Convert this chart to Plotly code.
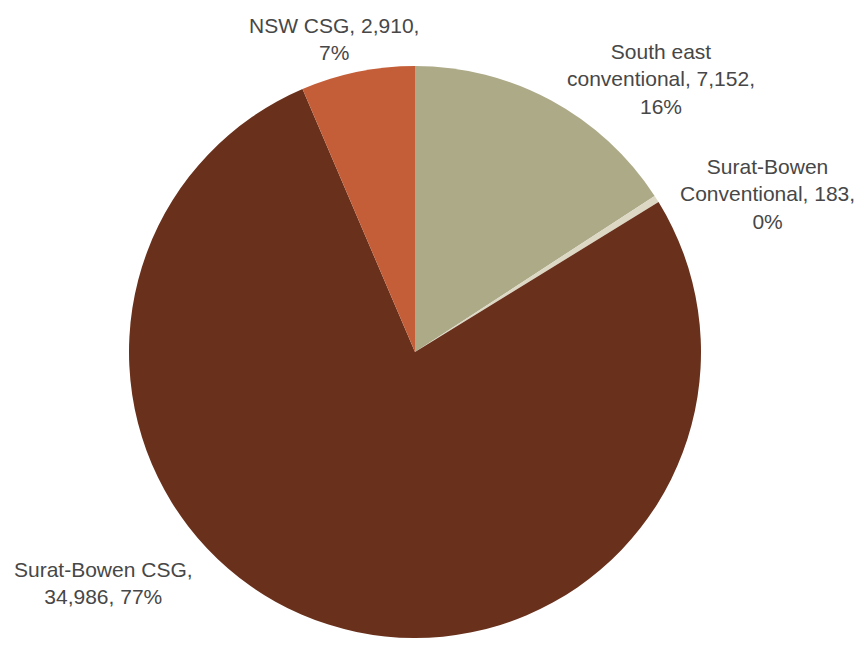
import plotly.graph_objects as go

categories = ["South east conventional", "Surat-Bowen Conventional", "Surat-Bowen CSG", "NSW CSG"]
values = [7152, 183, 34986, 2910]
percents = [16, 0, 77, 7]
label_lines = [
    ["South east", "conventional, {v},", "{p}%"],
    ["Surat-Bowen", "Conventional, {v},", "{p}%"],
    ["Surat-Bowen CSG,", "{v}, {p}%"],
    ["NSW CSG, {v},", "{p}%"],
]
colors = ["#ADAA88", "#DCD8C4", "#69301C", "#C35E38"]

OFF = 8  # page body margin offset
W, H = 864 - 2 * OFF, 646 - 2 * OFF
# label anchor positions in window pixels (center of text block)
label_pos = [(661, 79), (767, 194), (103, 583), (334, 39)]
cx, cy, r = 415, 356, 290

fig = go.Figure(go.Pie(
    labels=categories,
    values=values,
    sort=False,
    direction="clockwise",
    rotation=0,
    marker=dict(colors=colors, line=dict(width=0)),
    textinfo="none",
    hoverinfo="label+value+percent",
    domain=dict(x=[(cx - OFF - r) / W, (cx - OFF + r) / W],
                y=[max(0, 1 - (cy - OFF + r) / H), 1 - (cy - OFF - r) / H]),
    showlegend=False,
))

annotations = []
for lines, v, p, (px, py) in zip(label_lines, values, percents, label_pos):
    text = "<br>".join(l.format(v=f"{v:,}", p=p) for l in lines)
    annotations.append(dict(
        x=(px - OFF) / W, y=1 - (py - OFF) / H, xref="paper", yref="paper",
        xanchor="center", yanchor="middle", align="center",
        text=text, showarrow=False,
        font=dict(family="Liberation Sans, Arial, sans-serif",
                  size=21, color="#474747"),
    ))

fig.update_layout(
    width=W, height=H,
    margin=dict(l=0, r=0, t=0, b=0),
    paper_bgcolor="white",
    plot_bgcolor="white",
    annotations=annotations,
)

fig.write_html("out.html")
